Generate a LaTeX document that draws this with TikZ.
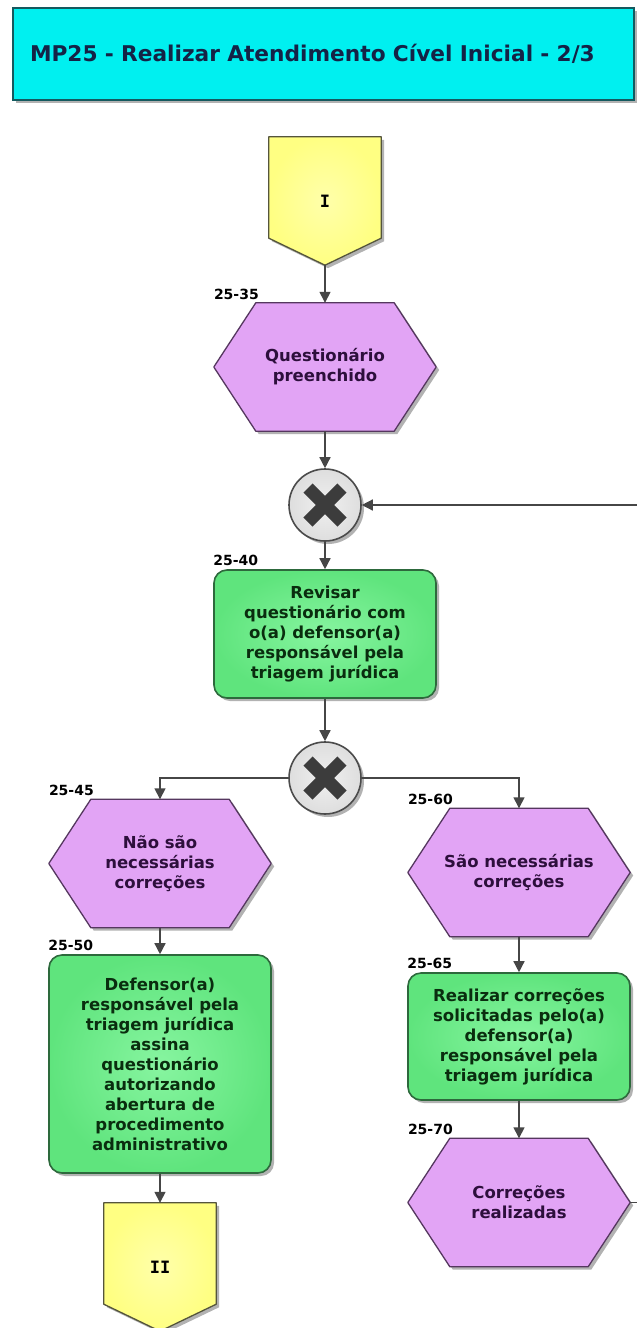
\documentclass[tikz,border=0pt]{standalone}
\usepackage{fontspec}
\setmainfont{DejaVu Sans}
\newfontfamily\pagefont{DejaVu Sans Mono}
\usetikzlibrary{arrows.meta,backgrounds,calc,shadows}

\definecolor{titlefill}{RGB}{0,240,240}
\definecolor{titledraw}{RGB}{20,90,95}
\definecolor{titletext}{RGB}{20,35,70}
\definecolor{evfill}{RGB}{226,164,245}
\definecolor{evdraw}{RGB}{85,55,95}
\definecolor{evtext}{RGB}{45,15,60}
\definecolor{fnfill}{RGB}{95,228,125}
\definecolor{fninner}{RGB}{135,245,160}
\definecolor{fndraw}{RGB}{45,105,60}
\definecolor{fntext}{RGB}{10,45,15}
\definecolor{pgfill}{RGB}{255,255,130}
\definecolor{pginner}{RGB}{255,255,170}
\definecolor{pgdraw}{RGB}{85,85,60}
\definecolor{gwfill}{RGB}{222,222,222}
\definecolor{gwinner}{RGB}{240,240,240}
\definecolor{gwdraw}{RGB}{75,75,75}
\definecolor{gwx}{RGB}{60,60,60}
\definecolor{wire}{RGB}{70,70,70}

\tikzset{
  softshadow/.style={drop shadow={shadow xshift=3pt, shadow yshift=-3pt, fill=black, opacity=0.3}},
  titlebox/.style={rectangle, fill=titlefill, draw=titledraw, line width=1.6pt,
    minimum width=621pt, minimum height=92pt, inner xsep=17pt, text width=587pt,
    align=left, text=titletext, font=\bfseries\fontsize{21.7}{24}\selectfont,
    softshadow},
  nodetext/.style={font=\bfseries\fontsize{16.5}{20}\selectfont, align=center, inner sep=0pt},
  evtbox/.style={nodetext, rectangle, minimum width=222pt, minimum height=128pt, text=evtext},
  evshape/.style={fill=evfill, draw=evdraw, line width=1.3pt, line join=round, softshadow},
  fnbox/.style={nodetext, rectangle, rounded corners=13pt, minimum width=222pt,
    text=fntext, draw=fndraw, line width=1.6pt, inner color=fninner, outer color=fnfill,
    softshadow},
  pagebox/.style={nodetext, rectangle, minimum width=112pt, minimum height=128pt, text=black,
    font=\pagefont\bfseries\fontsize{17}{20}\selectfont},
  pageshape/.style={draw=pgdraw, line width=1.3pt, line join=round, inner color=pginner,
    outer color=pgfill, softshadow},
  gateway/.style={circle, minimum size=72pt, inner sep=0pt, draw=gwdraw, line width=1.6pt,
    inner color=gwinner, outer color=gwfill, softshadow},
  gwcross/.style={draw=gwx, line width=13pt},
  lbl/.style={anchor=south west, inner sep=0pt, text=black,
    font=\bfseries\fontsize{14}{14}\selectfont},
  flow/.style={draw=wire, line width=1.4pt, -{Triangle[length=11pt,width=11pt]}},
}

% hexagonal event outline around a rectangular node
\newcommand\hexfig[1]{%
  \path[evshape] (#1.west) -- ([xshift=42pt]#1.north west) -- ([xshift=-42pt]#1.north east)
    -- (#1.east) -- ([xshift=-42pt]#1.south east) -- ([xshift=42pt]#1.south west) -- cycle;}
% off-page connector outline
\newcommand\pagefig[1]{%
  \path[pageshape] (#1.north west) -- (#1.north east) -- ([yshift=27pt]#1.south east)
    -- (#1.south) -- ([yshift=27pt]#1.south west) -- cycle;}
% exclusive gateway cross
\newcommand\xcross[1]{%
  \draw[gwcross] ([shift={(-17pt,17pt)}]#1.center) -- ([shift={(17pt,-17pt)}]#1.center);
  \draw[gwcross] ([shift={(-17pt,-17pt)}]#1.center) -- ([shift={(17pt,17pt)}]#1.center);}

\begin{document}
\begin{tikzpicture}[x=1pt,y=-1pt]
\useasboundingbox (0,0) rectangle (637,1328);
\begin{scope}[on background layer]
  \fill[white] (0,0) rectangle (637,1328);
\end{scope}

% heading
\node[titlebox] (title) at (323.5,54) {MP25 - Realizar Atendimento Cível Inicial - 2/3};

% main column
\node[pagebox] (pI) at (325,201) {I};
\node[evtbox] (h35) at (325,367) {Questionário\\preenchido};
\node[gateway] (g1) at (325,505) {};
\node[fnbox, minimum height=128pt] (a40) at (325,634)
  {Revisar\\questionário com\\o(a) defensor(a)\\responsável pela\\triagem jurídica};
\node[gateway] (g2) at (325,778) {};

% left branch
\node[evtbox] (h45) at (160,863.5) {Não são\\necessárias\\correções};
\node[fnbox, minimum height=218pt] (a50) at (160,1064)
  {Defensor(a)\\responsável pela\\triagem jurídica\\assina\\questionário\\autorizando\\abertura de\\procedimento\\administrativo};
\node[pagebox] (pII) at (160,1267) {II};

% right branch
\node[evtbox] (h60) at (519,872.5) {São necessárias\\correções};
\node[fnbox, minimum height=127pt] (a65) at (519,1036.5)
  {Realizar correções\\solicitadas pelo(a)\\defensor(a)\\responsável pela\\triagem jurídica};
\node[evtbox] (h70) at (519,1202.5) {Correções\\realizadas};

% outlines drawn behind the texts
\begin{scope}[on background layer]
  \pagefig{pI}
  \pagefig{pII}
  \hexfig{h35}
  \hexfig{h45}
  \hexfig{h60}
  \hexfig{h70}
\end{scope}
\xcross{g1}
\xcross{g2}

% step numbers
\node[lbl] (l35) at ([yshift=3pt]h35.north west) {25-35};
\node[lbl] (l40) at ([yshift=3pt]a40.north west) {25-40};
\node[lbl] (l45) at ([yshift=3pt]h45.north west) {25-45};
\node[lbl] (l50) at ([yshift=3pt]a50.north west) {25-50};
\node[lbl] (l60) at ([yshift=3pt]h60.north west) {25-60};
\node[lbl] (l65) at ([yshift=3pt]a65.north west) {25-65};
\node[lbl] (l70) at ([yshift=3pt]h70.north west) {25-70};

% connectors
\draw[flow] (pI.south) -- (h35.north);
\draw[flow] (h35.south) -- (g1.north);
\draw[flow] (g1.south) -- (a40.north);
\draw[flow] (a40.south) -- (g2.north);
\draw[flow] (g2.west) -| (h45.north);
\draw[flow] (g2.east) -| (h60.north);
\draw[flow] (h45.south) -- (a50.north);
\draw[flow] (a50.south) -- (pII.north);
\draw[flow] (h60.south) -- (a65.north);
\draw[flow] (a65.south) -- (h70.north);
\draw[flow] (h70.east) -- ++(30,0) |- (g1.east);
\end{tikzpicture}
\end{document}
